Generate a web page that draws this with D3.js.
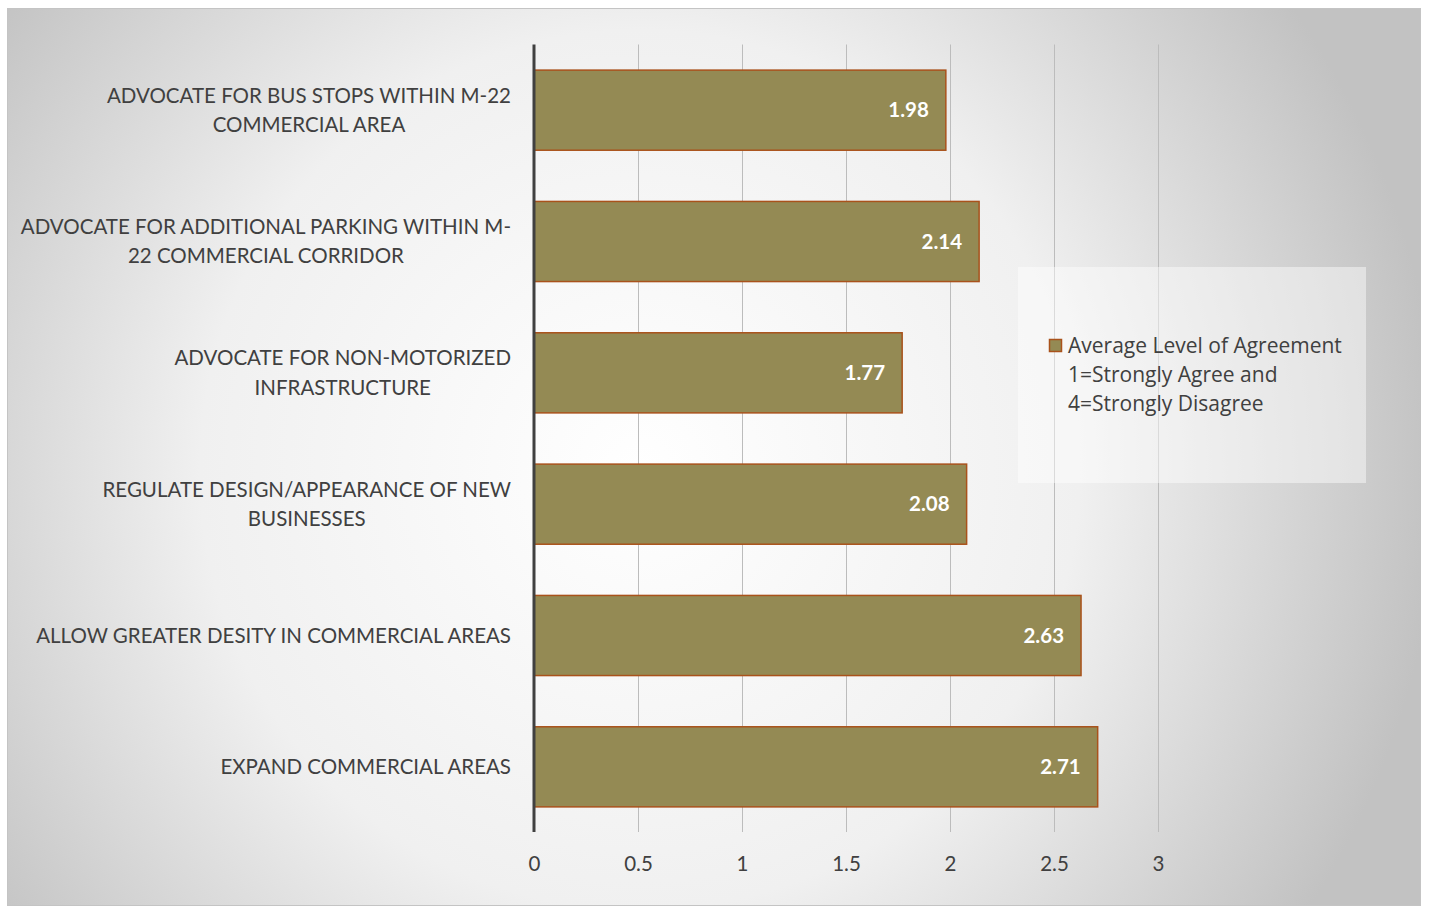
<!DOCTYPE html>
<html>
<head>
<meta charset="utf-8">
<script src="https://cdn.jsdelivr.net/npm/d3@7/dist/d3.min.js"></script>
<style>
  html, body { margin: 0; padding: 0; background: #ffffff; }
  svg { display: block; }
  text { font-family: Lato, "Open Sans", "Liberation Sans", sans-serif; }
  text.leg { font-family: "Open Sans", Lato, sans-serif; }
</style>
</head>
<body>
<svg id="chart" width="1429" height="906"></svg>
<script>
// Survey statements (top to bottom); "\n" marks where each label wraps
const categories = [
  "ADVOCATE FOR BUS STOPS WITHIN M-22\nCOMMERCIAL AREA",
  "ADVOCATE FOR ADDITIONAL PARKING WITHIN M-\n22 COMMERCIAL CORRIDOR",
  "ADVOCATE FOR NON-MOTORIZED\nINFRASTRUCTURE",
  "REGULATE DESIGN/APPEARANCE OF NEW\nBUSINESSES",
  "ALLOW GREATER DESITY IN COMMERCIAL AREAS",
  "EXPAND COMMERCIAL AREAS"
];
// Average level of agreement (1 = strongly agree, 4 = strongly disagree)
const values = [1.98, 2.14, 1.77, 2.08, 2.63, 2.71];
const tickValues = [0, 0.5, 1, 1.5, 2, 2.5, 3];
const tickLabels = ["0", "0.5", "1", "1.5", "2", "2.5", "3"];
const legendLines = ["Average Level of Agreement", "1=Strongly Agree and", "4=Strongly Disagree"];

const svg = d3.select("#chart");
const defs = svg.append("defs");

// Chart frame with soft radial shading
const bg = defs.append("radialGradient")
  .attr("id", "bgGrad")
  .attr("gradientUnits", "userSpaceOnUse")
  .attr("cx", 640).attr("cy", 470).attr("r", 800);
bg.append("stop").attr("offset", 0).attr("stop-color", "#ffffff");
bg.append("stop").attr("offset", 0.55).attr("stop-color", "#f0f0f0");
bg.append("stop").attr("offset", 1).attr("stop-color", "#c2c2c2");

svg.append("rect")
  .attr("x", 7.5).attr("y", 8.5)
  .attr("width", 1413).attr("height", 897)
  .attr("fill", "url(#bgGrad)")
  .attr("stroke", "#c4c4c4").attr("stroke-width", 1);

// Scales
const x = d3.scaleLinear().domain([0, 3]).range([534, 1158]);
const y = d3.scaleBand().domain(categories).range([44.5, 832.5]).paddingInner(0.39).paddingOuter(0.195);

const plotTop = 44.5, plotBottom = 832;

// Vertical gridlines
svg.append("g")
  .selectAll("line")
  .data(tickValues.filter(v => v > 0))
  .join("line")
  .attr("x1", d => Math.round(x(d)) + 0.5).attr("x2", d => Math.round(x(d)) + 0.5)
  .attr("y1", plotTop).attr("y2", plotBottom)
  .attr("stroke", "#bcbcbc").attr("stroke-width", 1);

// Bars
svg.append("g")
  .selectAll("rect")
  .data(values)
  .join("rect")
  .attr("x", x(0))
  .attr("y", (d, i) => y(categories[i]))
  .attr("width", d => x(d) - x(0))
  .attr("height", y.bandwidth())
  .attr("fill", "#948a54")
  .attr("stroke", "#a9521b")
  .attr("stroke-width", 1.5);

// Value labels inside bar ends
svg.append("g")
  .selectAll("text")
  .data(values)
  .join("text")
  .attr("x", d => x(d) - 17)
  .attr("y", (d, i) => y(categories[i]) + y.bandwidth() / 2)
  .attr("dy", "0.35em")
  .attr("text-anchor", "end")
  .attr("fill", "#ffffff")
  .attr("font-weight", "bold")
  .attr("font-size", 20.5)
  .text(d => d3.format(".2f")(d));

// Category axis line
svg.append("line")
  .attr("x1", x(0)).attr("x2", x(0))
  .attr("y1", plotTop).attr("y2", plotBottom)
  .attr("stroke", "#404040").attr("stroke-width", 3);

// Category labels: wrapped lines centred on one another, block right-aligned
const labelRight = 511;
const lineGap = 29.5;
const catG = svg.append("g");
categories.forEach(cat => {
  const lines = cat.split("\n");
  const t = catG.append("text")
    .attr("fill", "#404040")
    .attr("font-size", 20.5)
    .attr("text-anchor", "middle");
  const cy = y(cat) + y.bandwidth() / 2;
  lines.forEach((ln, j) => {
    t.append("tspan")
      .attr("y", cy + (j - (lines.length - 1) / 2) * lineGap)
      .attr("dy", "0.35em")
      .text(ln);
  });
  let maxW = 0;
  t.selectAll("tspan").each(function () { maxW = Math.max(maxW, this.getComputedTextLength()); });
  t.selectAll("tspan").attr("x", labelRight - maxW / 2);
});

// Value axis labels
const xAxis = d3.axisBottom(x).tickValues(tickValues).tickFormat((d, i) => tickLabels[i]).tickSize(0).tickPadding(0);
const xg = svg.append("g").attr("transform", "translate(0,864)").call(xAxis);
xg.select(".domain").remove();
xg.selectAll("text")
  .attr("y", 0).attr("dy", "0.35em")
  .attr("fill", "#404040")
  .attr("font-size", 20.5)
  .attr("font-family", null);

// Legend
const lg = svg.append("g");
lg.append("rect")
  .attr("x", 1018).attr("y", 267).attr("width", 348).attr("height", 216)
  .attr("fill", "#ffffff").attr("fill-opacity", 0.45);
lg.append("rect")
  .attr("x", 1049.5).attr("y", 339.5).attr("width", 12).attr("height", 12)
  .attr("fill", "#948a54").attr("stroke", "#a9521b").attr("stroke-width", 1.5);
lg.selectAll("text.leg")
  .data(legendLines)
  .join("text")
  .attr("class", "leg")
  .attr("x", 1068)
  .attr("y", (d, i) => 346 + i * 29)
  .attr("dy", "0.35em")
  .attr("fill", "#404040")
  .attr("font-size", 21)
  .text(d => d);
</script>
</body>
</html>
